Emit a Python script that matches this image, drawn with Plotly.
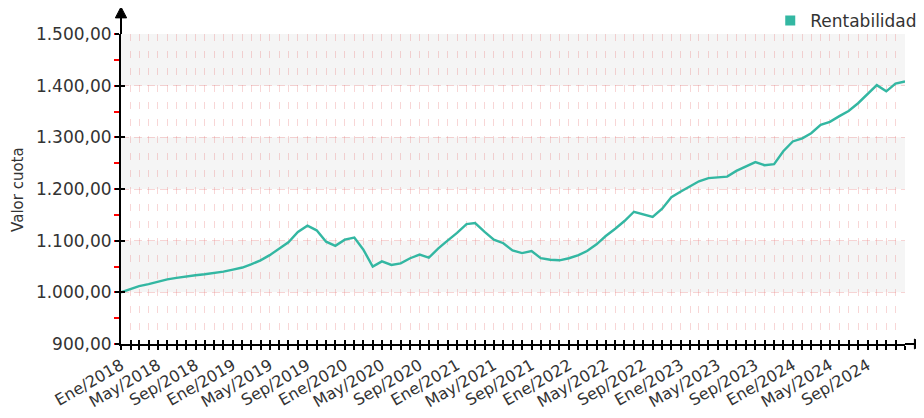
import pandas as pd
import plotly.graph_objects as go

# ---- data ----
start_month = "2018-01-01"
n_months = 85
valor_cuota = [
    1000, 1006, 1012, 1016, 1021, 1025, 1028, 1031, 1033, 1035,
    1037, 1040, 1044, 1048, 1054, 1062, 1072, 1084, 1097, 1117,
    1129, 1120, 1098, 1090, 1102, 1106, 1083, 1050, 1060, 1053,
    1056, 1066, 1073, 1067, 1085, 1100, 1115, 1132, 1134, 1117,
    1102, 1095, 1081, 1076, 1080, 1066, 1063, 1062, 1066, 1072,
    1080, 1093, 1109, 1123, 1138, 1156, 1151, 1146, 1162, 1184,
    1195, 1206, 1215, 1221, 1222, 1224, 1235, 1243, 1252, 1246,
    1248, 1273, 1292, 1298, 1308, 1324, 1330, 1341, 1351, 1366,
    1383, 1401, 1389, 1404, 1408,
]
month_names = ["Ene", "Feb", "Mar", "Abr", "May", "Jun",
               "Jul", "Ago", "Sep", "Oct", "Nov", "Dic"]
y_ticks = [900, 1000, 1100, 1200, 1300, 1400, 1500]
y_ticktext = ["900,00", "1.000,00", "1.100,00", "1.200,00",
              "1.300,00", "1.400,00", "1.500,00"]
series_name = "Rentabilidad"
y_title = "Valor cuota"

dates = pd.date_range(start_month, periods=n_months, freq="MS")
labels = []
for i, d in enumerate(dates):
    if i % 4 == 0 and i < n_months - 1:
        labels.append(f"{month_names[d.month - 1]}/{d.year}")
    else:
        labels.append("")

LINE = "#33b7a2"
GRID = "rgba(232,120,120,0.30)"
FONT = "DejaVu Sans"
TXT = "#333333"

fig = go.Figure()
fig.add_trace(go.Scatter(
    x=dates, y=valor_cuota, mode="lines",
    line=dict(color=LINE, width=2.4), showlegend=False,
    hoverinfo="skip"))
fig.add_trace(go.Scatter(
    x=[None], y=[None], mode="markers", name=series_name,
    marker=dict(symbol="square", size=10, color=LINE)))

# alternating background bands
shapes = []
for k in range(len(y_ticks) - 1):
    if (len(y_ticks) - 2 - k) % 2 == 0:
        shapes.append(dict(type="rect", xref="paper", yref="y",
                           x0=0, x1=1, y0=y_ticks[k], y1=y_ticks[k + 1],
                           fillcolor="#f5f5f5", line=dict(width=0),
                           layer="below"))
# axis extensions with arrow heads
shapes.append(dict(type="line", xref="paper", yref="paper",
                   x0=0, x1=0, y0=1, y1=1.06, line=dict(color="black", width=2)))
shapes.append(dict(type="path", xref="paper", yref="paper",
                   path="M -0.0072 1.052 L 0.0072 1.052 L 0 1.087 Z",
                   fillcolor="black", line=dict(color="black", width=1)))
shapes.append(dict(type="line", xref="paper", yref="paper",
                   x0=1, x1=1.013, y0=0, y1=0, line=dict(color="black", width=2)))
shapes.append(dict(type="path", xref="paper", yref="paper",
                   path="M 1.012 -0.016 L 1.012 0.016 L 1.0225 0 Z",
                   fillcolor="black", line=dict(color="black", width=1)))

xr = [dates[0], dates[-1]]
fig.update_layout(
    width=916, height=410,
    margin=dict(l=113, r=19, t=26, b=74, autoexpand=False),
    paper_bgcolor="white", plot_bgcolor="white",
    font=dict(family=FONT, color=TXT, size=17),
    shapes=shapes,
    legend=dict(x=1.022, xanchor="right", y=1.1, yanchor="top",
                font=dict(size=17, color=TXT), bgcolor="rgba(0,0,0,0)",
                itemwidth=30, tracegroupgap=0),
    annotations=[dict(text=y_title, xref="paper", yref="paper",
                      x=-0.1315, y=0.5, xanchor="center", yanchor="middle",
                      textangle=-90, showarrow=False,
                      font=dict(size=15, color=TXT, family=FONT))],
    xaxis=dict(
        range=xr, tickmode="array", tickvals=dates, ticktext=labels,
        tickangle=-30, ticks="outside", ticklen=4, tickwidth=1.5,
        tickcolor="black", showline=True, linecolor="black", linewidth=2,
        showgrid=True, gridcolor=GRID, griddash="7px,10px", gridwidth=1,
        zeroline=False, tickfont=dict(size=16, color=TXT, family=FONT),
        fixedrange=True),
    xaxis2=dict(
        overlaying="x", matches="x", range=xr, tickmode="array",
        tickvals=dates, ticktext=[""] * len(dates), ticks="inside",
        ticklen=4, tickwidth=1.5, tickcolor="black", showgrid=False,
        showline=False, zeroline=False, side="bottom"),
    yaxis=dict(
        range=[y_ticks[0], y_ticks[-1]], tickmode="array",
        tickvals=y_ticks, ticktext=y_ticktext,
        ticks="outside", ticklen=4, tickwidth=1.5, tickcolor="black",
        showline=True, linecolor="black", linewidth=2,
        showgrid=True, gridcolor=GRID, griddash="8px,5px", gridwidth=1,
        zeroline=False, tickfont=dict(size=17, color=TXT, family=FONT),
        minor=dict(dtick=50, ticks="outside", ticklen=5, tickcolor="red",
                   tickwidth=1.5, showgrid=False),
        fixedrange=True),
    yaxis2=dict(
        overlaying="y", matches="y", range=[y_ticks[0], y_ticks[-1]],
        tickmode="array", tickvals=y_ticks, ticktext=[""] * len(y_ticks),
        ticks="inside", ticklen=4, tickwidth=1.5, tickcolor="black",
        showgrid=False, showline=False, zeroline=False),
)
# invisible point on the overlay axes so their ticks render
fig.add_trace(go.Scatter(x=[dates[0]], y=[y_ticks[0]], xaxis="x2", yaxis="y2",
                         mode="markers", marker=dict(opacity=0),
                         showlegend=False, hoverinfo="skip"))
fig.update_yaxes(automargin=False)
fig.update_xaxes(automargin=False)

fig.write_html("out.html")
